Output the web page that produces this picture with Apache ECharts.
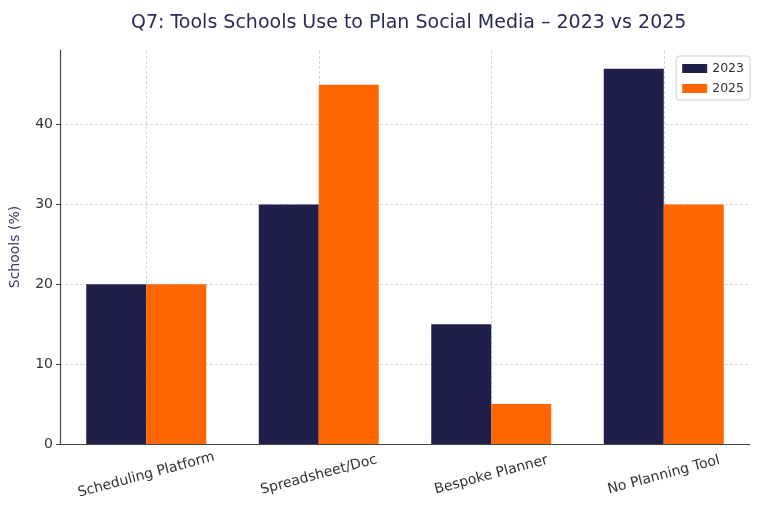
<!DOCTYPE html>
<html>
<head>
<meta charset="utf-8">
<script src="https://cdn.jsdelivr.net/npm/echarts@6/dist/echarts.min.js"></script>
<style>html,body{margin:0;padding:0;background:#fff}#c{width:768px;height:512px}</style>
</head>
<body>
<div id="c"></div>
<script>
const categories = ['Scheduling Platform', 'Spreadsheet/Doc', 'Bespoke Planner', 'No Planning Tool'];
const values2023 = [20, 30, 15, 47];
const values2025 = [20, 45, 5, 30];
const seriesNames = ['2023', '2025'];

const chart = echarts.init(document.getElementById('c'));
const font = 'DejaVu Sans';
chart.setOption({
  animation: false,
  backgroundColor: '#fff',
  textStyle: { fontFamily: font },
  title: {
    text: 'Q7: Tools Schools Use to Plan Social Media – 2023 vs 2025',
    left: 126, top: 9,
    textStyle: { fontFamily: font, fontSize: 19, fontWeight: 'normal', color: '#2b2b57' }
  },
  legend: {
    data: seriesNames,
    orient: 'vertical', right: 18, top: 56,
    itemWidth: 25, itemHeight: 9, itemGap: 7,
    padding: [6, 6, 5, 6],
    borderColor: '#d0d0d0', borderWidth: 1, borderRadius: 3,
    backgroundColor: '#fff',
    textStyle: { fontFamily: font, fontSize: 12.5, color: '#333' },
    icon: 'rect'
  },
  grid: { left: 55, right: 18, top: 50, bottom: 68 },
  xAxis: {
    type: 'category',
    data: categories,
    axisLine: { lineStyle: { color: '#444', width: 1.2 } },
    axisTick: { show: false },
    splitLine: { show: false },
    axisLabel: {
      rotate: 15, align: 'center', verticalAlign: 'middle', margin: 31,
      fontFamily: font, fontSize: 14, color: '#333', interval: 0
    }
  },
  yAxis: {
    type: 'value', min: 0, max: 49.35, interval: 10,
    name: 'Schools (%)', nameLocation: 'middle', nameGap: 38,
    nameTextStyle: { fontFamily: font, fontSize: 14, color: '#3a3a66' },
    axisLine: { show: true, lineStyle: { color: '#444', width: 1.2 } },
    axisTick: { show: true, length: 4, lineStyle: { color: '#444' } },
    axisLabel: { fontFamily: font, fontSize: 14, color: '#333', margin: 7, showMaxLabel: false },
    splitLine: { show: true, showMaxLine: false, lineStyle: { color: '#cccccc', type: [3, 2], width: 0.8 } }
  },
  series: [
    {
      name: seriesNames[0], type: 'bar', data: values2023,
      barWidth: 60, barGap: '0%',
      itemStyle: { color: '#1f1f4a' }
    },
    {
      name: seriesNames[1], type: 'bar', data: values2025,
      barWidth: 60, barGap: '0%',
      itemStyle: { color: '#ff6600' }
    },
    {
      name: 'grid', type: 'line', data: [], z: 1, silent: true,
      markLine: {
        silent: true, symbol: 'none', z: 1, animation: false,
        label: { show: false },
        lineStyle: { color: '#cccccc', type: [3, 2], width: 0.8 },
        data: categories.map(c => ({ xAxis: c }))
      }
    }
  ]
});
</script>
</body>
</html>
